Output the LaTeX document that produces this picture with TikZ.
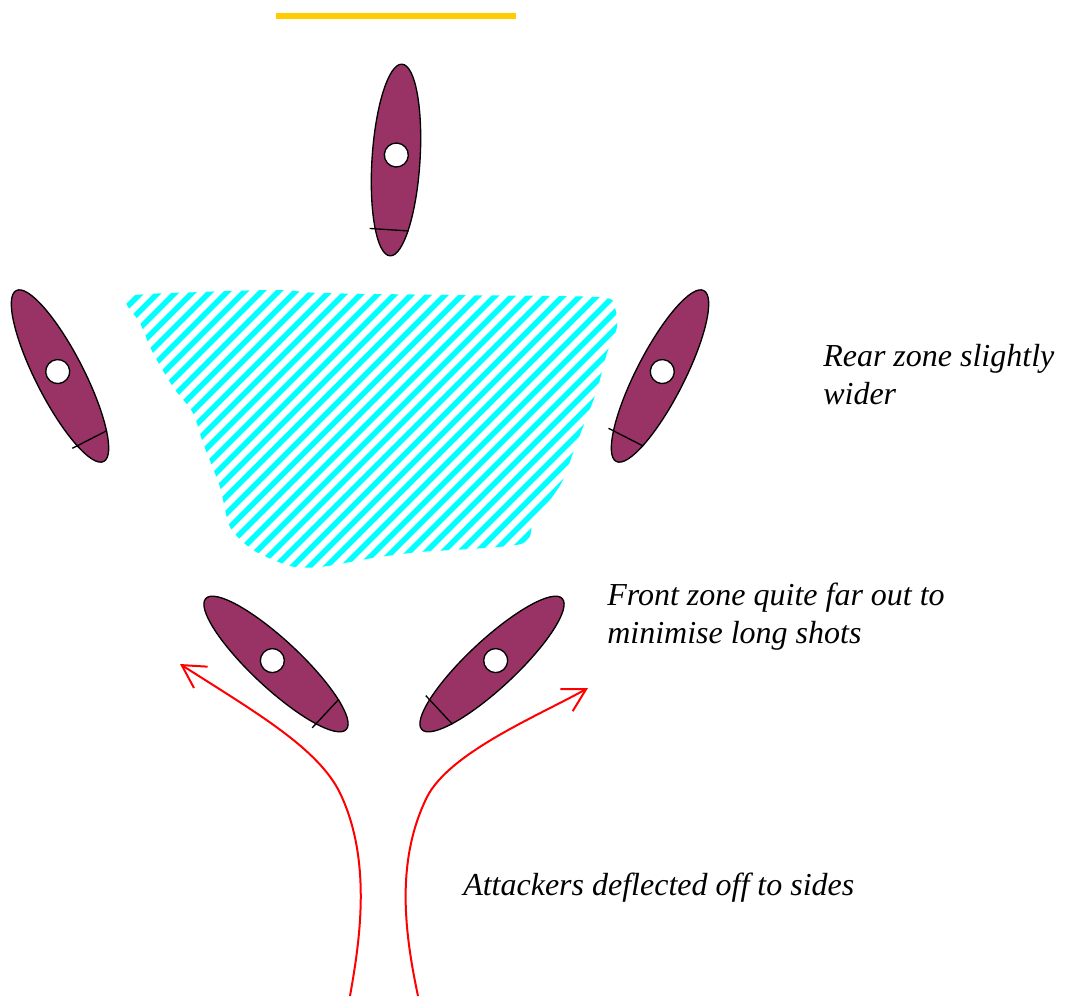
\documentclass[tikz,border=0pt]{standalone}
\usepackage{fontspec}
\setmainfont{Liberation Serif}
\usetikzlibrary{arrows.meta}

\definecolor{shirtplum}{HTML}{993366}
\definecolor{goalyellow}{HTML}{FFCC00}
\definecolor{zonecyan}{RGB}{0,255,255}
\definecolor{runred}{RGB}{255,0,0}

\begin{document}
\begin{tikzpicture}[
    x=0.75pt, y=-0.75pt,
    every node/.style={font=\fontsize{24}{28}\selectfont\itshape},
    note/.style={anchor=base west, inner sep=0pt, align=left},
    playerbody/.style={draw=black, line width=1pt, fill=shirtplum},
    playerhead/.style={draw=black, line width=1pt, fill=white},
    player/.pic={
        \draw[playerbody] (0,0) ellipse [x radius=96, y radius=24];
        \draw[playerhead] (5,0) circle [radius=12];
        \draw[line width=1pt] (-70,-22) -- (-70,17);
    },
    zonestripe/.style={zonecyan, line width=4pt},
    runarrow/.style={-{Straight Barb[length=17pt, width=19pt]}, runred, line width=1.5pt},
    goalline/.style={goalyellow, line width=4.5pt}
]
\useasboundingbox (0,0) rectangle (1067,996);

% Goal
\draw[goalline] (276,16) -- (516,16);

% Covered zone
\begin{scope}
  \clip plot[smooth cycle, tension=0.45] coordinates {
      (127,297) (200,292) (280,290) (320,293) (450,295) (598,297)
      (614,306) (617,327) (607,353) (597,390) (583,427) (573,453)
      (563,480) (550,500) (533,520) (521,544) (420,552) (373,558)
      (320,567) (290,566) (253,550) (230,527) (220,487) (203,443)
      (193,413) (173,387) (153,353) (140,323)};
  \foreach \c in {400,417,...,1220}
    \draw[zonestripe] (\c-270,270) -- (\c-590,590);
\end{scope}

% Defenders
\pic[rotate=86.4] (keeper) at (396,160) {player};
\pic[rotate=117.1] (rearleft) at (60,376) {player};
\pic[rotate=62.9] (rearright) at (660,376) {player};
\pic[rotate=137] (frontleft) at (276,664) {player};
\pic[rotate=43] (frontright) at (492,664) {player};

% Attacking runs
\coordinate (lstart) at (350,996);
\coordinate (ltip) at (180,664);
\coordinate (rstart) at (418,996);
\coordinate (rtip) at (588,688);
\draw[runarrow] (lstart) .. controls (360,940) and (372,860) .. (340,793)
    .. controls (318,748) and (255,712) .. (ltip);
\draw[runarrow] (rstart) .. controls (404,930) and (396,860) .. (427,797)
    .. controls (450,752) and (540,715) .. (rtip);

% Notes (base = last line)
\node[note] (rearnote) at (823,404) {Rear zone slightly\\wider};
\node[note] (frontnote) at (607,643) {Front zone quite far out to\\minimise long shots};
\node[note] (runnote) at (463,895) {Attackers deflected off to sides};

\end{tikzpicture}
\end{document}
